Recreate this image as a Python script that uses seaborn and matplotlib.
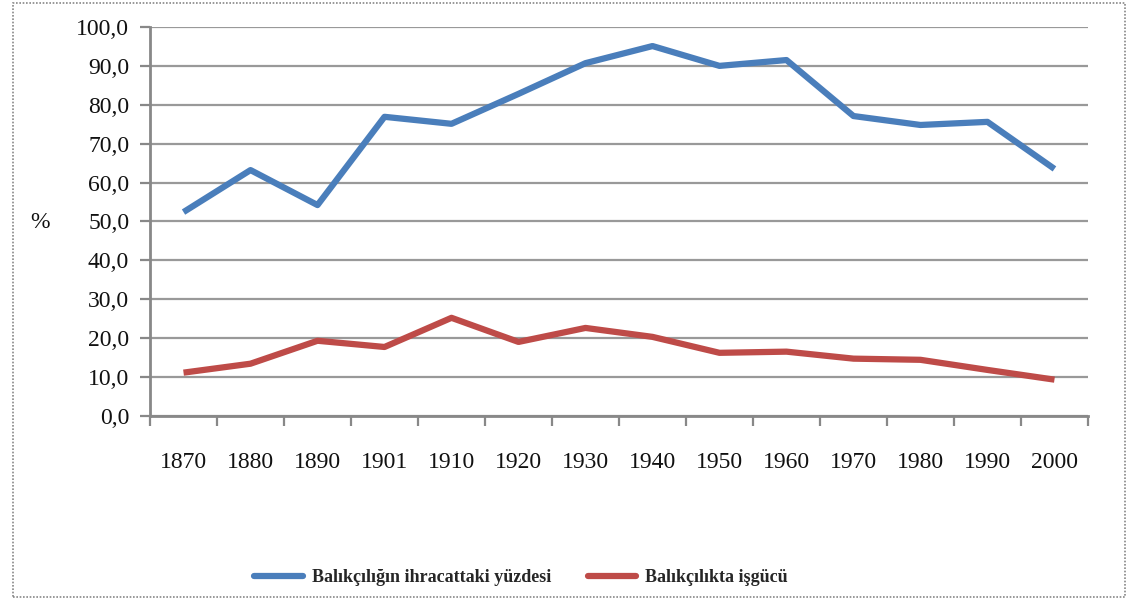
import matplotlib
matplotlib.use("Agg")
import matplotlib.pyplot as plt
import seaborn as sns
import pandas as pd
import numpy as np
from matplotlib.patches import Rectangle
from matplotlib.ticker import FixedLocator, FuncFormatter
from matplotlib.lines import Line2D

years = ["1870", "1880", "1890", "1901", "1910", "1920", "1930",
         "1940", "1950", "1960", "1970", "1980", "1990", "2000"]
export_share = [52.4, 63.2, 54.2, 76.9, 75.1, 82.8, 90.7,
                95.1, 90.0, 91.5, 77.1, 74.8, 75.6, 63.5]
labour_share = [11.1, 13.4, 19.3, 17.7, 25.2, 19.0, 22.6,
                20.3, 16.2, 16.5, 14.7, 14.4, 11.8, 9.3]
series_names = ["Balıkçılığın ihracattaki yüzdesi", "Balıkçılıkta işgücü"]
colors = ["#4a7ebb", "#be4b48"]

sns.set_theme(style="white")
plt.rcParams['font.family'] = ['Liberation Serif', 'DejaVu Serif']

df = pd.DataFrame({
    "pos": list(range(len(years))) * 2,
    "value": export_share + labour_share,
    "series": [series_names[0]] * len(years) + [series_names[1]] * len(years),
})

fig = plt.figure(figsize=(11.28, 6.0), dpi=100)
ax = fig.add_axes([0.133, 0.307, 0.8315, 0.648])

sns.lineplot(data=df, x="pos", y="value", hue="series", palette=colors,
             linewidth=4.5, ax=ax, legend=False, solid_capstyle="butt")

ax.set_xlim(-0.5, len(years) - 0.5)
ax.set_ylim(0, 100)
ax.set_yticks(np.arange(0, 101, 10))
ax.yaxis.set_major_formatter(FuncFormatter(lambda v, p: f"{v:.1f}".replace(".", ",")))
ax.yaxis.grid(True, color="#999999", linewidth=1.6)
ax.xaxis.grid(False)
ax.set_xticks(range(len(years)))
ax.set_xticklabels(years)
ax.xaxis.set_minor_locator(FixedLocator(np.arange(-0.5, len(years), 1.0)))
ax.tick_params(axis="x", which="major", bottom=True, length=0, pad=26, labelsize=17,
               labelcolor="#111111")
ax.tick_params(axis="x", which="minor", bottom=True, length=7, width=1.6, color="#888888",
               direction="out")
ax.tick_params(axis="y", which="major", left=True, length=7, width=1.6, color="#888888",
               direction="out", pad=8, labelsize=17, labelcolor="#111111")
ax.set_xlabel("")
ax.set_ylabel("")
for s in ["top", "right"]:
    ax.spines[s].set_visible(False)
for s in ["left", "bottom"]:
    ax.spines[s].set_color("#888888")
    ax.spines[s].set_linewidth(2)

fig.text(40 / 1128, 1 - 222 / 600, "%", fontsize=17, ha="center", va="center", color="#111111")

handles = [Line2D([0], [0], color=c, linewidth=4.5) for c in colors]
fig.legend(handles, series_names, loc="center", bbox_to_anchor=(0.462, 1 - 578 / 600),
           ncol=2, frameon=False, prop={"size": 13, "weight": "bold"},
           handlelength=2.7, columnspacing=2.0, handletextpad=0.5)

fig.patches.append(Rectangle((13 / 1128, 3 / 600), 1112 / 1128, 594 / 600,
                             transform=fig.transFigure, fill=False,
                             edgecolor="#888888", linestyle=(0, (1, 1)), linewidth=1.2))

fig.savefig("out.png", dpi=100, facecolor="white")
